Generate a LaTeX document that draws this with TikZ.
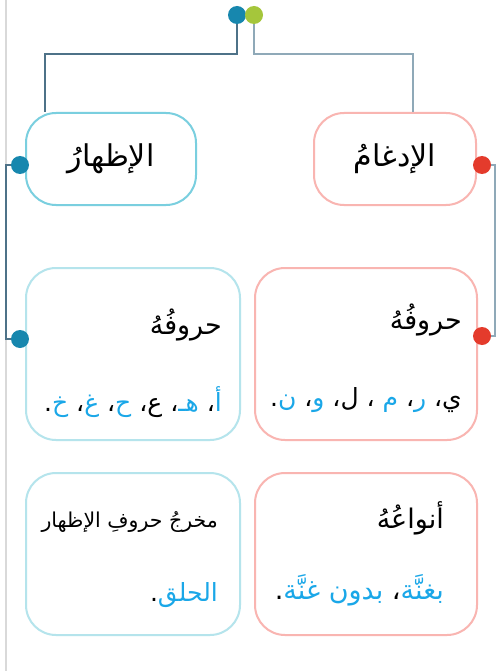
\documentclass[tikz,border=0pt]{standalone}
\usepackage{fontspec}
\TeXXeTstate=1
\newfontfamily\arabicfont[Script=Arabic]{DejaVu Sans}
\definecolor{dotblue}{HTML}{1787AE}
\definecolor{dotgreen}{HTML}{A5C63B}
\definecolor{dotred}{HTML}{E43B2C}
\definecolor{cyantop}{HTML}{7ACFDF}
\definecolor{cyanlow}{HTML}{B5E4EC}
\definecolor{pinkbox}{HTML}{F9B5B1}
\definecolor{tblue}{HTML}{1AA7E8}
\definecolor{conndark}{HTML}{4E7288}
\definecolor{connlight}{HTML}{8FA9B8}
\definecolor{margingrey}{HTML}{D9D9D9}
\newcommand\AR[1]{\hbox{\beginR #1\endR}}
\newcommand\ARc[1]{{\color{tblue}\hbox{\beginR #1\endR}}}
\tikzset{
  boxshape/.style={draw, line width=2pt, rounded corners=30pt, inner sep=0pt, fill=white},
  dotshape/.style={circle, inner sep=0pt, minimum size=18pt},
  conn/.style={line width=1.8pt},
  txt/.style={inner sep=0pt, font=\arabicfont\fontsize{25}{30}\selectfont},
  headtxt/.style={inner sep=0pt, font=\arabicfont\fontsize{27}{32}\selectfont},
  bigtxt/.style={inner sep=0pt, font=\arabicfont\fontsize{30}{34}\selectfont},
  smalltxt/.style={inner sep=0pt, font=\arabicfont\fontsize{20.5}{24}\selectfont},
}
\begin{document}
\begin{tikzpicture}[x=1pt,y=-1pt]
\useasboundingbox (0,0) rectangle (501,671);
\fill[white] (0,0) rectangle (501,671);
% margin line
\draw[margingrey, line width=2pt] (6,0) -- (6,671);

\coordinate (ibc) at (111,159);
\coordinate (idc) at (395,159);

% dots (positions)
\node[dotshape] (dtb) at (237,15) {};
\node[dotshape] (dtg) at (254,15) {};
\node[dotshape] (dl1) at (20,165) {};
\node[dotshape] (dl2) at (20,339) {};
\node[dotshape] (dr1) at (482,165) {};
\node[dotshape] (dr2) at (482,336) {};

% top boxes
\node[boxshape, draw=cyantop, minimum width=170pt, minimum height=92pt] (ib) at (ibc) {};
\node[boxshape, draw=pinkbox, minimum width=162pt, minimum height=92pt] (ia) at (idc) {};
% middle boxes
\node[boxshape, draw=cyanlow, minimum width=214pt, minimum height=172pt] (ibm) at (133,354) {};
\node[boxshape, draw=pinkbox, minimum width=222pt, minimum height=172pt] (iam) at (366,354) {};
% bottom boxes
\node[boxshape, draw=cyanlow, minimum width=214pt, minimum height=162pt] (ibb) at (133,554) {};
\node[boxshape, draw=pinkbox, minimum width=222pt, minimum height=162pt] (iab) at (366,554) {};

% connectors
\coordinate (cl) at (45,54);
\coordinate (cr) at (413,54);
\coordinate (ml) at (6,165);
\coordinate (mr) at (495,165);
\draw[conn, conndark] (dtb.center) |- (cl) -- (cl |- ib.north);
\draw[conn, connlight] (dtg.center) |- (cr) -- (cr |- ia.north);
\draw[conn, conndark] (dl1.center) -- (ml) |- (dl2.center);
\draw[conn, connlight] (dr1.center) -- (mr) |- (dr2.center);

% dots on top
\fill[dotblue] (dtb) circle (9pt);
\fill[dotgreen] (dtg) circle (9pt);
\fill[dotblue] (dl1) circle (9pt);
\fill[dotblue] (dl2) circle (9pt);
\fill[dotred] (dr1) circle (9pt);
\fill[dotred] (dr2) circle (9pt);

% texts
\node[bigtxt] (t1) at (ibc) {\AR{الإظهارُ}};
\node[bigtxt] (t2) at (idc) {\AR{الإدغامُ}};

\node[headtxt, anchor=east] (t3) at (462,320) {\AR{حروفُهُ}};
\node[txt, anchor=east] (t4) at (462,400) {\AR{.}\ARc{ن} \AR{،}\ARc{و} \AR{،}\AR{ل} \AR{،} \ARc{م} \AR{،}\ARc{ر} \AR{،}\AR{ي}};

\node[headtxt, anchor=east] (t5) at (222,325) {\AR{حروفُهُ}};
\node[txt, anchor=east] (t6) at (222,402) {\AR{.}\ARc{خ} \AR{،}\ARc{غ} \AR{،}\ARc{ح} \AR{،}\AR{ع} \AR{،}\ARc{هـ} \AR{،}\ARc{أ}};

\node[headtxt, anchor=east] (t7) at (444,518) {\AR{أنواعُهُ}};
\node[headtxt, anchor=east] (t8) at (444,590) {\AR{.}\ARc{بدون غنَّة} \AR{،}\ARc{بغنَّة}};

\node[smalltxt, anchor=east] (t9) at (218,522) {\AR{مخرجُ حروفِ الإظهار}};
\node[txt, anchor=east] (t10) at (218,595) {\AR{.}\ARc{الحلق}};
\end{tikzpicture}
\end{document}
